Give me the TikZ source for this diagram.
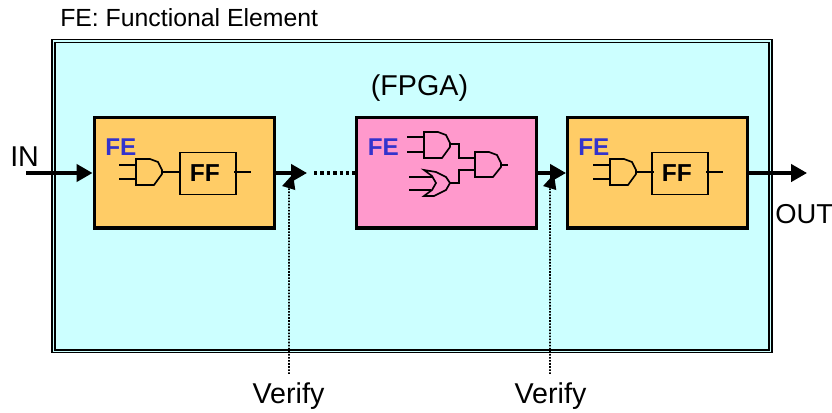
\documentclass[tikz,border=0pt]{standalone}
\usepackage{fontspec}
\setmainfont{Liberation Sans}
\usepackage{xcolor}
\usetikzlibrary{arrows.meta,positioning}
\definecolor{fpgacyan}{RGB}{204,255,255}
\definecolor{feorange}{RGB}{255,204,102}
\definecolor{fepink}{RGB}{255,153,204}
\definecolor{feblue}{RGB}{51,51,204}
\begin{document}
\begin{tikzpicture}[
  x=0.75pt, y=-0.75pt,
  fe/.style={draw, line width=2.6pt, minimum width=135pt, minimum height=83pt, inner sep=0pt},
  felabel/.style={font=\fontsize{18.2}{20}\selectfont\bfseries, text=feblue, inner sep=0pt},
  lbl/.style={font=\fontsize{21.5}{24}\selectfont, inner sep=0pt},
  wire/.style={line width=1.25pt},
  flow/.style={line width=2.6pt, -{Triangle[length=12pt,width=13pt]}},
  probe/.style={line width=1.2pt, dash pattern=on 1.2pt off 1.1pt, -{Triangle[length=11pt,width=10pt]}},
  ffbox/.style={draw, line width=1.25pt, minimum width=42pt, minimum height=31.5pt, inner sep=0pt,
                font=\fontsize{18.4}{20}\selectfont\bfseries},
  pics/andgate/.style={code={
    \draw[wire] (0,0) -- (14,0) -- (22,3) -- (26,11) -- (26,15) -- (18,26) -- (0,26) -- cycle;
    \draw[wire] (-17,6) -- (0,6) (-17,20) -- (0,20) (26,13) -- (44,13);
  }}
]
\useasboundingbox (0,0) rectangle (832,412);
% chip outline
\node[draw, line width=1.1pt, fill=fpgacyan, minimum width=540pt, minimum height=234.75pt, inner sep=0pt, anchor=north west] (fpga) at (51.3,38.8) {};
\node[draw, line width=1.1pt, fill=fpgacyan, minimum width=535.5pt, minimum height=230.6pt, inner sep=0pt] (core) at (fpga.center) {};
\node[font=\fontsize{18.6}{20}\selectfont, inner sep=0pt, anchor=base west] (title) at (60,26) {FE: Functional Element};
\node[lbl, anchor=base] (chip) at (419.5,95) {(FPGA)};
% blocks
\node[fe, fill=feorange, anchor=north west] (fea) at (92.5,115.5) {};
\node[fe, fill=fepink, anchor=north west] (feb) at (355,115.5) {};
\node[fe, fill=feorange, anchor=north west] (fec) at (566,115.5) {};
\node[felabel, anchor=base west] at (105,155) {FE};
\node[felabel, anchor=base west] at (367.5,155) {FE};
\node[felabel, anchor=base west] at (578,155) {FE};
% first block
\pic at (136,159) {andgate};
\node[ffbox, anchor=north west] (ffa) at (179,151.5) {FF\kern4.5pt};
\draw[wire] (234,172) -- (251,172);
% last block
\pic at (610,159) {andgate};
\node[ffbox, anchor=north west] (ffc) at (651,151.5) {FF\kern4.5pt};
\draw[wire] (706,172) -- (723,172);
% middle block
\draw[wire] (424,132) -- (438,132) -- (446,135) -- (450,143) -- (450,147) -- (442,158) -- (424,158) -- cycle;
\draw[wire] (407,137) -- (424,137) (407,152) -- (424,152);
\draw[wire] (450,144) -- (459,144) -- (459,158) -- (475,158);
\draw[wire] (475,152) -- (489,152) -- (497,155) -- (501,163) -- (501,167) -- (493,177) -- (475,177) -- cycle;
\draw[wire] (501,165) -- (508,165);
\draw[wire] (424,170) -- (436,172) -- (446,177) -- (450,183) -- (446,190) -- (434,196) -- (424,196) -- (432,190) -- (436,183) -- (432,176) -- cycle;
\draw[wire] (409,177) -- (432,177) (409,190) -- (431,190);
\draw[wire] (450,183) -- (459,183) -- (459,170) -- (475,170);
% signals
\node[lbl, anchor=base west] (in) at (10,166) {IN};
\node[font=\fontsize{20.5}{24}\selectfont, inner sep=0pt, anchor=base west] (out) at (775,223) {OUT};
\coordinate (ina) at (26,173);
\coordinate (outa) at (807,173);
\coordinate (enda) at (307,173);
\coordinate (starta) at (314,173);
\draw[flow] (ina) -- (fea.west |- ina);
\draw[flow] (fea.east |- ina) -- (enda);
\draw[line width=2.6pt, dash pattern=on 2.6pt off 2.2pt] (starta) -- (feb.west |- ina);
\draw[flow] (feb.east |- ina) -- (fec.west |- ina);
\draw[flow] (fec.east |- ina) -- (outa);
% probes
\node[lbl, anchor=base] (va) at (288.5,403) {Verify};
\node[lbl, anchor=base] (vb) at (550.5,403) {Verify};
\coordinate (pa) at (289,187);
\coordinate (pb) at (550,187);
\coordinate (tipa) at (293,174);
\coordinate (tipb) at (554,174);
\draw[probe, shorten <=6pt] (va.north -| pa) -- (pa) -- (tipa);
\draw[probe, shorten <=6pt] (vb.north -| pb) -- (pb) -- (tipb);
\end{tikzpicture}
\end{document}
